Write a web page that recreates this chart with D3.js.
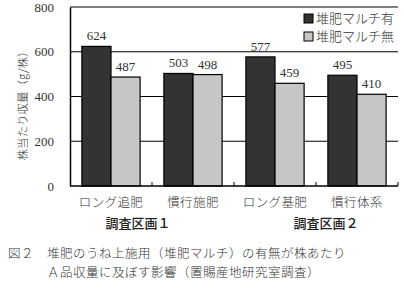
<!DOCTYPE html>
<html>
<head>
<meta charset="utf-8">
<script src="https://cdn.jsdelivr.net/npm/d3@7"></script>
<style>
  body { margin: 0; background: #fff; }
  svg { display: block; }
  .jp { font-family: "Noto Sans CJK JP", sans-serif; }
  .num { font-family: "Liberation Serif", "DejaVu Serif", serif; }
</style>
</head>
<body>
<svg id="canvas" width="404" height="291"></svg>
<script>
// chart values
let categories = ['ロング追肥', '慣行施肥', 'ロング基肥', '慣行体系'];
let withMulch = [624, 503, 577, 495];
let withoutMulch = [487, 498, 459, 410];
let seriesNames = ['堆肥マルチ有', '堆肥マルチ無'];
let seriesColors = ['#333333', '#c6c6c6'];
let yTicks = [0, 200, 400, 600, 800];
let groups = [
  { label: '調査区画１', x: 138 },
  { label: '調査区画２', x: 326 }
];
let captionLines = [
  '図２　堆肥のうね上施用（堆肥マルチ）の有無が株あたり',
  '　　　Ａ品収量に及ぼす影響（置賜産地研究室調査）'
];

let svg = d3.select('#canvas');

let plotLeft = 70, plotRight = 398, plotTop = 7, plotBottom = 186;

let x = d3.scaleBand()
    .domain(categories)
    .range([plotLeft, plotRight])
    .paddingInner(0.29)
    .paddingOuter(0.145);

let y = d3.scaleLinear()
    .domain([0, 800])
    .range([plotBottom, plotTop]);

let sub = d3.scaleBand()
    .domain([0, 1])
    .range([0, x.bandwidth()]);

// gridlines
svg.append('g')
  .selectAll('line')
  .data(yTicks.filter(d => d > 0))
  .enter()
  .append('line')
  .attr('x1', plotLeft)
  .attr('x2', plotRight)
  .attr('y1', d => y(d))
  .attr('y2', d => y(d))
  .attr('stroke', '#000')
  .attr('stroke-width', 1.2);

// bars
let rows = categories.map((c, i) => ({ cat: c, vals: [withMulch[i], withoutMulch[i]] }));

let bars = svg.append('g')
  .selectAll('g')
  .data(rows)
  .enter()
  .append('g')
  .attr('transform', d => 'translate(' + x(d.cat) + ',0)');

bars.selectAll('rect')
  .data(d => d.vals.map((v, k) => ({ v: v, k: k })))
  .enter()
  .append('rect')
  .attr('x', d => sub(d.k))
  .attr('y', d => y(d.v))
  .attr('width', sub.bandwidth())
  .attr('height', d => plotBottom - y(d.v))
  .attr('fill', d => seriesColors[d.k])
  .attr('stroke', '#000')
  .attr('stroke-width', 1.2);

bars.selectAll('text')
  .data(d => d.vals.map((v, k) => ({ v: v, k: k })))
  .enter()
  .append('text')
  .attr('class', 'num')
  .attr('x', d => sub(d.k) + sub.bandwidth() / 2)
  .attr('y', d => y(d.v) - 6)
  .attr('text-anchor', 'middle')
  .attr('font-size', 13)
  .attr('fill', '#333')
  .text(d => d.v);

// y axis
let yAxis = svg.append('g')
  .attr('transform', 'translate(' + plotLeft + ',0)')
  .call(d3.axisLeft(y).tickValues(yTicks).tickSize(0).tickPadding(16));
yAxis.select('.domain').attr('stroke', '#000').attr('stroke-width', 1.5);
yAxis.selectAll('text')
  .attr('class', 'num')
  .attr('font-size', 13)
  .attr('fill', '#333');

// x axis line with inward ticks at category boundaries
svg.append('line')
  .attr('x1', plotLeft).attr('x2', plotRight)
  .attr('y1', plotBottom).attr('y2', plotBottom)
  .attr('stroke', '#000').attr('stroke-width', 1.5);

let step = x.step();
svg.append('g')
  .selectAll('line')
  .data(categories)
  .enter()
  .append('line')
  .attr('x1', d => x(d) - x.paddingOuter() * step + step)
  .attr('x2', d => x(d) - x.paddingOuter() * step + step)
  .attr('y1', plotBottom)
  .attr('y2', plotBottom - 4)
  .attr('stroke', '#000');

svg.append('g')
  .selectAll('text')
  .data(categories)
  .enter()
  .append('text')
  .attr('class', 'jp')
  .attr('x', d => x(d) + x.bandwidth() / 2)
  .attr('y', 207)
  .attr('text-anchor', 'middle')
  .attr('font-size', 12.5)
  .attr('letter-spacing', 0.4)
  .attr('font-weight', 300)
  .attr('fill', '#333')
  .text(d => d);

svg.append('g')
  .selectAll('text')
  .data(groups)
  .enter()
  .append('text')
  .attr('class', 'jp')
  .attr('x', d => d.x)
  .attr('y', 228)
  .attr('text-anchor', 'middle')
  .attr('font-size', 13)
  .attr('font-weight', 500)
  .attr('fill', '#222')
  .text(d => d.label);

// y title
svg.append('text')
  .attr('class', 'jp')
  .attr('transform', 'translate(27,103) rotate(-90)')
  .attr('text-anchor', 'middle')
  .attr('font-size', 11.5)
  .attr('font-weight', 300)
  .attr('fill', '#333')
  .text('株当たり収量（g/株）');

// legend
let legend = svg.append('g')
  .selectAll('g')
  .data(seriesNames)
  .enter()
  .append('g')
  .attr('transform', (d, i) => 'translate(304,' + (14 + i * 18) + ')');

legend.append('rect')
  .attr('width', 9)
  .attr('height', 9)
  .attr('fill', (d, i) => seriesColors[i])
  .attr('stroke', '#000');

legend.append('text')
  .attr('class', 'jp')
  .attr('x', 12)
  .attr('y', 9)
  .attr('font-size', 13)
  .attr('font-weight', 300)
  .attr('fill', '#333')
  .text(d => d);

// caption
svg.append('g')
  .selectAll('text')
  .data(captionLines)
  .enter()
  .append('text')
  .attr('class', 'jp')
  .attr('x', 8)
  .attr('y', (d, i) => 258 + i * 19)
  .attr('font-size', 12.5)
  .attr('font-weight', 300)
  .attr('letter-spacing', 0.5)
  .attr('fill', '#333')
  .text(d => d);
</script>
</body>
</html>
